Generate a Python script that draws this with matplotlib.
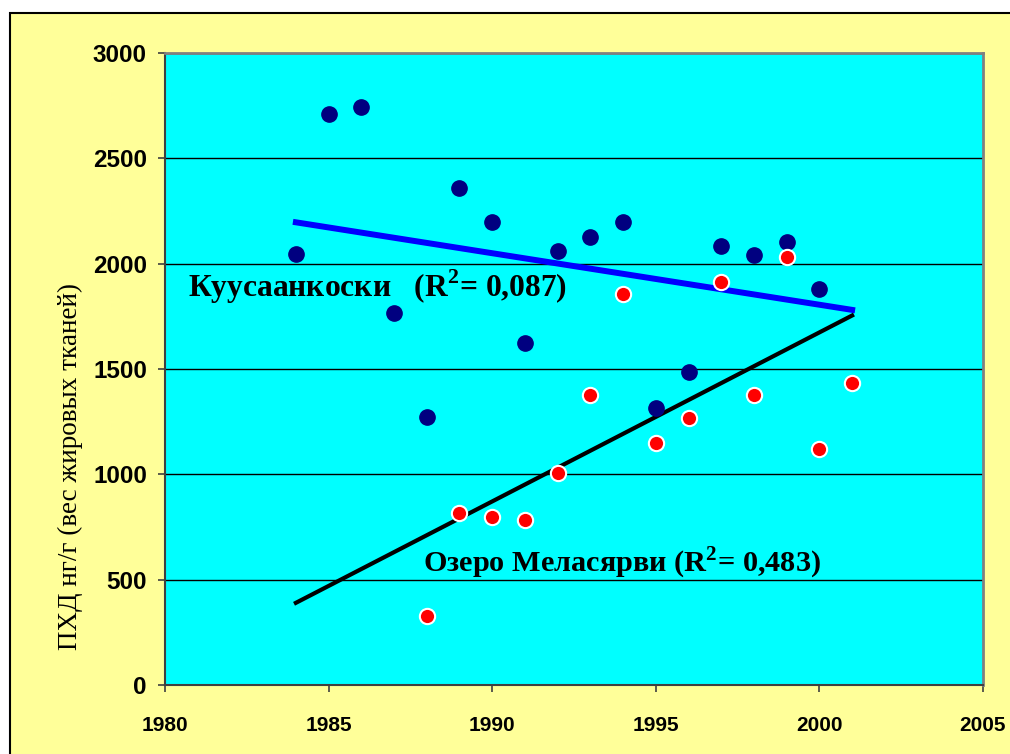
import numpy as np
import matplotlib.pyplot as plt
from matplotlib.patches import Rectangle

# Куусаанкоски
years_k = [1984, 1985, 1986, 1987, 1988, 1989, 1990, 1991, 1992, 1993, 1994,
           1995, 1996, 1997, 1998, 1999, 2000]
pcb_k = [2046, 2710, 2744, 1766, 1272, 2359, 2198, 1623, 2060, 2127, 2198,
         1315, 1486, 2084, 2041, 2103, 1880]

# Озеро Меласярви
years_m = [1988, 1989, 1990, 1991, 1992, 1993, 1994, 1995, 1996, 1997, 1998,
           1999, 2000, 2001]
pcb_m = [327, 816, 797, 783, 1006, 1377, 1856, 1149, 1267, 1913, 1377,
         2032, 1120, 1434]

trend_years = [1984, 2001]

plt.rcParams['mathtext.fontset'] = 'custom'
plt.rcParams['mathtext.rm'] = 'Liberation Serif:bold'
plt.rcParams['mathtext.bf'] = 'Liberation Serif:bold'

fig = plt.figure(figsize=(10.1, 7.54), dpi=100)
fig.patch.set_facecolor('white')
fig.patches.append(Rectangle((10 / 1010, -0.05), 1.1, 0.05 + (754 - 13) / 754,
                             transform=fig.transFigure, facecolor='#FFFF99',
                             edgecolor='black', linewidth=1.5, zorder=-10))

ax = fig.add_axes([165 / 1010, 1 - 685 / 754, 818 / 1010, 632 / 754])
ax.set_facecolor('#00FFFF')

# linear trends
xt = np.array(trend_years, dtype=float)
fk = np.polyfit(years_k, pcb_k, 1)
fm = np.polyfit(years_m, pcb_m, 1)
ax.plot(xt, np.polyval(fk, xt), color='#0000FF', lw=4.3, zorder=3)
ax.plot(xt, np.polyval(fm, xt), color='black', lw=3, zorder=3)

ax.plot(years_k, pcb_k, 'o', color='#000080', ms=11, mec='#000080', zorder=4)
ax.plot(years_m, pcb_m, 'o', color='#FF0000', ms=11, mec='white', mew=1.5, zorder=4)

ax.set_xlim(1980, 2005)
ax.set_ylim(0, 3000)
ax.set_xticks(range(1980, 2006, 5))
ax.set_yticks(range(0, 3001, 500))
ax.grid(axis='y', color='black', lw=1)
ax.set_axisbelow(True)

for s in ['top', 'right']:
    ax.spines[s].set_color('#808080')
    ax.spines[s].set_linewidth(2)
for s in ['left', 'bottom']:
    ax.spines[s].set_color('#404040')
    ax.spines[s].set_linewidth(1.5)

ax.tick_params(axis='both', direction='out', length=5, color='#404040', width=1.2)
ax.tick_params(axis='x', pad=17)
ax.tick_params(axis='y', pad=8)
for lbl in ax.get_yticklabels():
    lbl.set_fontfamily(['Liberation Sans', 'DejaVu Sans'])
    lbl.set_fontweight('bold')
    lbl.set_fontsize(17.5)
for lbl in ax.get_xticklabels():
    lbl.set_fontfamily(['Liberation Sans', 'DejaVu Sans'])
    lbl.set_fontweight('bold')
    lbl.set_fontsize(15)

fig.text(70 / 1010, 1 - 466 / 754, 'ПХД нг/г (вес жировых тканей)',
         fontfamily='Liberation Serif', fontsize=19.5, rotation=90,
         ha='center', va='center')

ax.text(1980.7, 1889, 'Куусаанкоски   (R$^{2}$= 0,087)', fontfamily='Liberation Serif',
        fontweight='bold', fontsize=22.7, va='center', ha='left', zorder=5)
ax.text(1987.9, 579, 'Озеро Меласярви (R$^{2}$= 0,483)', fontfamily='Liberation Serif',
        fontweight='bold', fontsize=21.8, va='center', ha='left', zorder=5)

fig.savefig('out.png', dpi=100, facecolor=fig.get_facecolor())
